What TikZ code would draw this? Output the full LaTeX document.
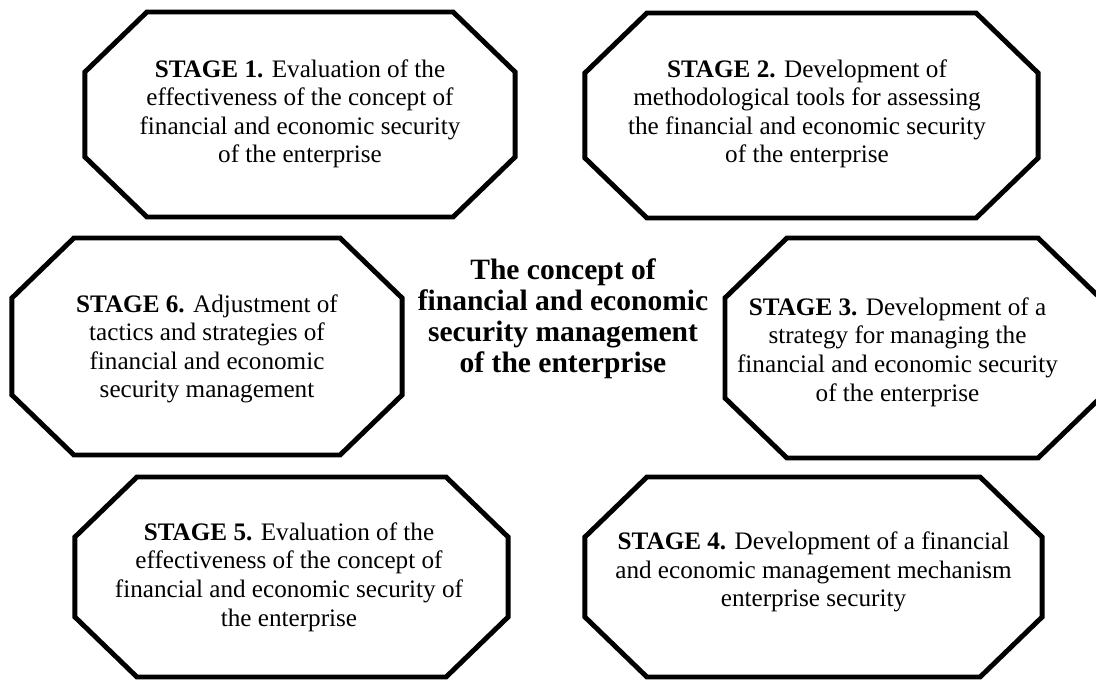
\documentclass[tikz,border=0pt]{standalone}
\usepackage{fontspec}
\setmainfont{Liberation Serif}
\usetikzlibrary{calc}

\tikzset{
	stagebox/.style={inner sep=0pt, outer sep=0pt},
	octa/.style={line width=3.5pt, line join=miter},
	stagetext/.style={align=center, inner sep=0pt, font=\fontsize{17.9}{20.3}\selectfont},
	centretext/.style={align=center, inner sep=0pt, font=\fontsize{21}{22}\selectfont\bfseries}
}

\begin{document}
\begin{tikzpicture}[x=0.025cm,y=0.025cm]
	\useasboundingbox (0,0) rectangle (1096,679);
	
	%FRAMES (corners get cut below)
	\node[stagebox, minimum width=10.75cm,  minimum height=5.125cm] (f1) at (300,564.5) {};
	\node[stagebox, minimum width=11.325cm, minimum height=5.125cm] (f2) at (811.5,563.5) {};
	\node[stagebox, minimum width=9.375cm,  minimum height=5.5cm]   (f3) at (912.5,331) {};
	\node[stagebox, minimum width=11.425cm, minimum height=5cm]     (f4) at (813.5,102) {};
	\node[stagebox, minimum width=10.825cm, minimum height=5cm]     (f5) at (291.5,102) {};
	\node[stagebox, minimum width=9.75cm,   minimum height=5.425cm] (f6) at (207,332.5) {};
	
	%OCTAGONS
	\def\cx{62}
	\def\cy{60}
	\foreach \i in {1,...,6}{
		\draw[octa] ($(f\i.north west)+(\cx,0)$) -- ($(f\i.north east)+(-\cx,0)$)
			-- ($(f\i.north east)+(0,-\cy)$) -- ($(f\i.south east)+(0,\cy)$)
			-- ($(f\i.south east)+(-\cx,0)$) -- ($(f\i.south west)+(\cx,0)$)
			-- ($(f\i.south west)+(0,\cy)$) -- ($(f\i.north west)+(0,-\cy)$) -- cycle;
	}
	
	%STAGES
	\node[stagetext] (t1) at (300,565) {\textbf{STAGE 1.} Evaluation of the\\effectiveness of the concept of\\financial and economic security\\of the enterprise};
	\node[stagetext] (t2) at (807,565) {\textbf{STAGE 2.} Development of\\methodological tools for assessing\\the financial and economic security\\of the enterprise};
	\node[stagetext] (t3) at ($(f3)+(-15,-4)$) {\textbf{STAGE 3.} Development of a\\strategy for managing the\\financial and economic security\\of the enterprise};
	\node[stagetext] (t4) at ($(f4)+(0,5)$) {\textbf{STAGE 4.} Development of a financial\\and economic management mechanism\\enterprise security};
	\node[stagetext] (t5) at (289,102) {\textbf{STAGE 5.} Evaluation of the\\effectiveness of the concept of\\financial and economic security of\\the enterprise};
	\node[stagetext] (t6) at (207,330) {\textbf{STAGE 6.} Adjustment of\\tactics and strategies of\\financial and economic\\security management};
	
	%CENTRE
	\node[centretext] (concept) at (563,360) {The concept of\\financial and economic\\security management\\of the enterprise};
\end{tikzpicture}
\end{document}
